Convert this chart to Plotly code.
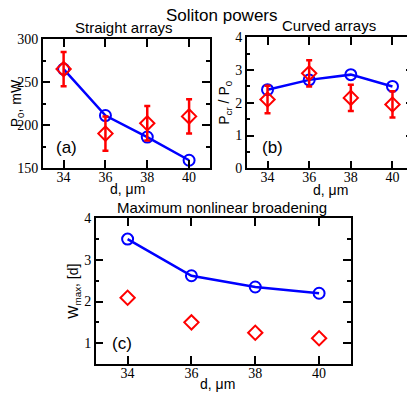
import plotly.graph_objects as go

# data
d = [34, 36, 38, 40]

# (a) straight arrays, P0 in mW
p0_theory = [265, 211, 186, 159]
p0_exp = [265, 190, 202, 210]
p0_err = [20, 20, 20, 20]

# (b) curved arrays, Pcr / P0
ratio_theory = [2.4, 2.7, 2.86, 2.5]
ratio_exp = [2.1, 2.9, 2.15, 1.95]
ratio_err = [0.42, 0.4, 0.4, 0.4]

# (c) maximum nonlinear broadening, in units of d
wmax_theory = [3.5, 2.62, 2.35, 2.2]
wmax_exp = [2.09, 1.5, 1.25, 1.12]

BLUE = "#0000ff"
RED = "#ff0000"
serif = "Liberation Serif"
sans = "Liberation Sans"

W, H = 415, 393
OFF = 8  # page body margin pushes the plot div down/right


def fx(px):
    return (px - OFF) / W


def fy(py):
    return 1 - (py - OFF) / H


fig = go.Figure()

panels = [
    ("", "", p0_theory, p0_exp, p0_err),
    ("2", "2", ratio_theory, ratio_exp, ratio_err),
    ("3", "3", wmax_theory, wmax_exp, None),
]
for xa, ya, th, ex, err in panels:
    fig.add_trace(go.Scatter(x=d, y=th, xaxis="x" + xa, yaxis="y" + ya,
                             mode="lines+markers",
                             line=dict(color=BLUE, width=2.5),
                             marker=dict(symbol="circle-open", size=11,
                                         color=BLUE, line=dict(width=2))))
    ebar = None
    if err is not None:
        ebar = dict(type="data", array=err, color=RED, thickness=2.5, width=3)
    fig.add_trace(go.Scatter(x=d, y=ex, xaxis="x" + xa, yaxis="y" + ya,
                             mode="markers", error_y=ebar,
                             marker=dict(symbol="diamond-open", size=11,
                                         color=RED, line=dict(width=2))))


def xaxis(x0, x1, anchor):
    return dict(domain=[fx(x0), fx(x1)], anchor=anchor, range=[33, 41], automargin=False,
                tickvals=[34, 36, 38, 40], ticks="inside", ticklen=8,
                ticklabelstandoff=-5,
                showline=True, linecolor="black", linewidth=1.5, mirror="ticks",
                tickcolor="black", tickwidth=1.5, showgrid=False, zeroline=False,
                tickfont=dict(family=serif, size=14, color="black"))


def yaxis(y0, y1, anchor, rng, dtick, title):
    return dict(domain=[fy(y1), fy(y0)], anchor=anchor, range=rng, dtick=dtick,
                automargin=False, ticks="inside", ticklen=8,
                minor=dict(dtick=dtick / 2, ticks="inside", ticklen=4,
                           tickcolor="black", tickwidth=1.5),
                showline=True, linecolor="black", linewidth=1.5, mirror="ticks",
                tickcolor="black", tickwidth=1.5, showgrid=False, zeroline=False,
                tickfont=dict(family=serif, size=14, color="black"),
                title=dict(text=title, font=dict(family=sans, size=14, color="black"),
                           standoff=2))


fig.update_layout(
    width=W, height=H, margin=dict(l=0, r=0, t=0, b=0),
    paper_bgcolor="white", plot_bgcolor="white", showlegend=False,
    xaxis=xaxis(42.7, 210, "y"),
    yaxis=yaxis(39, 168, "x", [150, 300], 50, "P<sub>0</sub>, mW"),
    xaxis2=xaxis(246.7, 413.3, "y2"),
    yaxis2=yaxis(37.3, 168.3, "x2", [0, 4], 1, "P<sub>cr</sub> / P<sub>0</sub>"),
    xaxis3=xaxis(95.7, 351, "y3"),
    yaxis3=yaxis(218.3, 364, "x3", [0.5, 4], 1, "W<sub>max</sub>, [d]"),
)

# titles and x axis labels, placed in page pixels
texts = [
    ("Soliton powers", 222, 16, 17),
    ("Straight arrays", 124, 27, 15),
    ("Curved arrays", 329, 26, 15),
    ("Maximum nonlinear broadening", 222, 207, 15),
    ("d, μm", 127, 189, 14),
    ("d, μm", 330, 190, 14),
    ("d, μm", 218, 384, 14),
]
for txt, px, py, fs in texts:
    fig.add_annotation(text=txt, xref="paper", yref="paper",
                       x=fx(px), y=fy(py), xanchor="center", yanchor="middle",
                       showarrow=False, borderpad=0,
                       font=dict(family=sans, size=fs, color="black"))

for txt, xr, yr, xv, yv in [("(a)", "x", "y", 34.15, 174),
                            ("(b)", "x2", "y2", 34.25, 0.65),
                            ("(c)", "x3", "y3", 33.82, 1.0)]:
    fig.add_annotation(text=txt, xref=xr, yref=yr, x=xv, y=yv, showarrow=False,
                       xanchor="center", yanchor="middle",
                       font=dict(family=sans, size=17, color="black"))

fig.write_html("out.html")
